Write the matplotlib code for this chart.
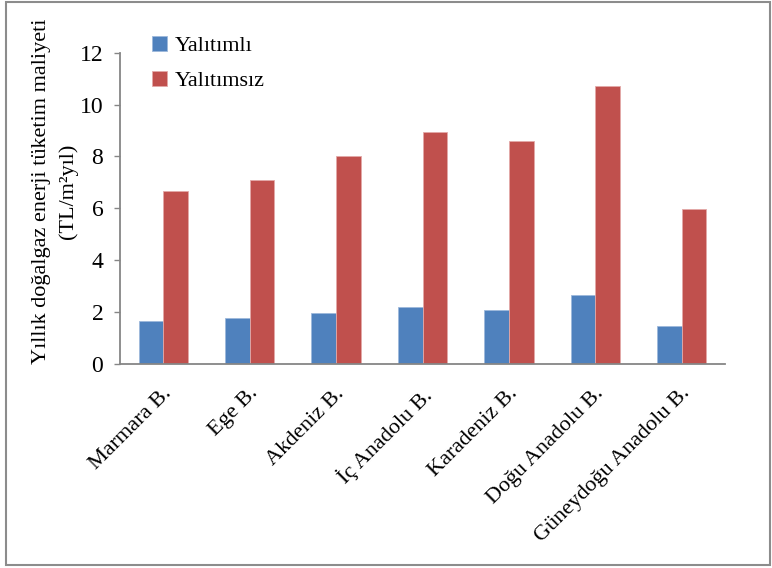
"""Yearly natural gas cost per region: insulated vs uninsulated."""

import matplotlib

matplotlib.use("Agg")
import matplotlib.pyplot as plt
import matplotlib.transforms as mtransforms
import numpy as np
from matplotlib.patches import Rectangle

regions = [
    "Marmara B.",
    "Ege B.",
    "Akdeniz B.",
    "İç Anadolu B.",
    "Karadeniz B.",
    "Doğu Anadolu B.",
    "Güneydoğu Anadolu B.",
]
insulated = [1.64, 1.76, 1.98, 2.21, 2.10, 2.66, 1.47]
uninsulated = [6.67, 7.11, 8.00, 8.94, 8.59, 10.73, 5.98]
series_names = ["Yalıtımlı", "Yalıtımsız"]
y_ticks = [0, 2, 4, 6, 8, 10, 12]

plt.rcParams["font.family"] = ["Liberation Serif", "DejaVu Serif"]

W, H = 772, 568
fig = plt.figure(figsize=(W / 100, H / 100), dpi=100)
ax = fig.add_axes([120 / W, 1 - 364 / H, (725 - 120) / W, (364 - 52.7) / H])

x = np.arange(len(regions))
width = 0.285
b1 = ax.bar(x - width / 2, insulated, width, color="#4F81BD",
            edgecolor="#9DB8DB", linewidth=0.6, label=series_names[0])
b2 = ax.bar(x + width / 2, uninsulated, width, color="#C0504D",
            edgecolor="#E3A9A8", linewidth=0.6, label=series_names[1])

ax.set_xlim(-0.5, len(regions) - 0.5)
ax.set_ylim(0, 12)
ax.set_yticks(y_ticks)
ax.set_yticklabels([str(t) for t in y_ticks], fontsize=17)
ax.set_xticks(x)
ax.set_xticklabels([])

# category labels, rotated with their right end near the group centre
offset = mtransforms.ScaledTranslation(-1 / 100, -20 / 100, fig.dpi_scale_trans)
for xi, name in zip(x, regions):
    ax.text(xi, 0, name, transform=ax.get_xaxis_transform() + offset,
            fontsize=16, rotation=45, ha="right", va="top",
            rotation_mode="anchor")

for side in ["top", "right"]:
    ax.spines[side].set_visible(False)
for side in ["left", "bottom"]:
    ax.spines[side].set_color("#868686")
    ax.spines[side].set_linewidth(1.3)
ax.tick_params(axis="y", direction="out", length=4, width=1.0,
               color="#868686", pad=8)
ax.tick_params(axis="x", length=0)

fig.text(55 / W, 1 - 191 / H,
         "Yıllık doğalgaz enerji tüketim maliyeti\n(TL/m²yıl)",
         rotation=90, ha="center", va="center", fontsize=16,
         linespacing=1.5)

fig.legend(handles=[b1, b2], loc="upper left",
           bbox_to_anchor=(141 / W, 1 - 25 / H), frameon=False,
           fontsize=16, handlelength=0.65, handleheight=0.65,
           handletextpad=0.35, labelspacing=0.65, borderpad=0)

fig.patches.append(Rectangle((6 / W, 3 / H), (764) / W, (563) / H,
                             transform=fig.transFigure, fill=False,
                             edgecolor="#8C8C8C", linewidth=1.5))

fig.savefig("out.png", dpi=100)
plt.close(fig)
